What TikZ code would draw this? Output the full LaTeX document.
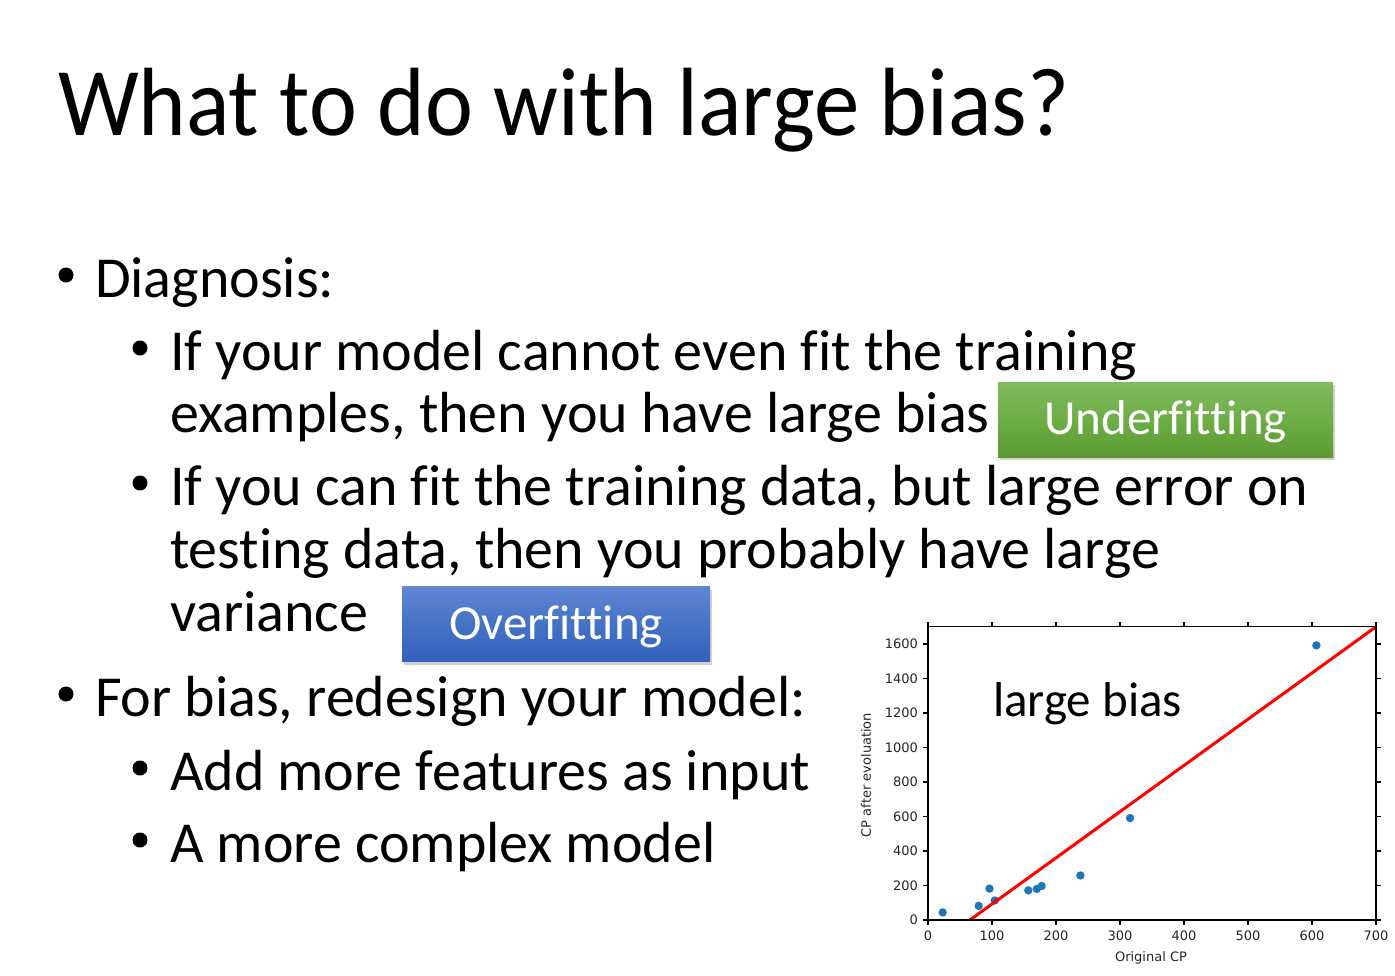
\documentclass[tikz,border=0pt]{standalone}
\usepackage{fontspec}
\setmainfont{Carlito}[Ligatures={NoCommon,NoContextual}]
\newfontfamily\plotfont{DejaVu Sans}
\usetikzlibrary{positioning,shadows}
\definecolor{ufgreentop}{HTML}{82BA60}
\definecolor{ufgreenmid}{HTML}{6DAE45}
\definecolor{ufgreenbot}{HTML}{5B9B30}
\definecolor{ofbluetop}{HTML}{6187D4}
\definecolor{ofbluemid}{HTML}{4472C4}
\definecolor{ofbluebot}{HTML}{3361BC}
\definecolor{cpblue}{HTML}{1F77B4}

\begin{document}
\begin{tikzpicture}[x=1pt, y=-1pt, every node/.style={inner sep=0pt, outer sep=0pt}, textline/.style={anchor=base west, font=\fontsize{58}{62}\selectfont}, bulletdot/.style={circle, fill=black, minimum size=15pt}, tag/.style={text=white, font=\fontsize{49}{49}\selectfont, text height=30pt, text depth=0pt, minimum height=75pt, drop shadow={shadow xshift=2pt, shadow yshift=-3pt, opacity=0.35}}, ticklabel/.style={font=\plotfont\fontsize{13}{14}\selectfont, text=black!85}, axisline/.style={line width=1.2pt}]
    \useasboundingbox[fill=white] (0,0) rectangle (1395,975);

    \node[anchor=base west, font=\fontsize{97}{100}\selectfont] (title) at (58,135) {\scalebox{0.935}[1]{What to do with large bias?}};

    \node[bulletdot] (b1) at (66,275) {};
    \node[textline] (diag) at (95,297) {Diagnosis:};
    \node[bulletdot] (b11) at (140,348) {};
    \node[textline] (fitA) at (170,370) {If your model cannot even fit the training};
    \node[textline] (fitB) at (170,432) {examples, then you have large bias};
    \node[bulletdot] (b12) at (140,483) {};
    \node[textline] (varA) at (170,505) {If you can fit the training data, but large error on};
    \node[textline] (varB) at (170,568) {testing data, then you probably have large};
    \node[textline] (varC) at (170,631) {variance};
    \node[bulletdot] (b2) at (66,694) {};
    \node[textline] (redesign) at (95,716) {For bias, redesign your model:};
    \node[bulletdot] (b21) at (140,768) {};
    \node[textline] (features) at (170,790) {Add more features as input};
    \node[bulletdot] (b22) at (140,840) {};
    \node[textline] (complex) at (170,862) {A more complex model};

    \node[tag, minimum width=335pt, top color=ufgreentop, bottom color=ufgreenbot, middle color=ufgreenmid] (underfit) at (1165.5,419.5) {Underfitting};
    \node[tag, minimum width=308pt, top color=ofbluetop, bottom color=ofbluebot, middle color=ofbluemid] (overfit) at (556,624) {Overfitting};

    % scatter plot
    \begin{scope}[shift={(928,920)}, x=0.64pt, y=0.1725pt]
        \foreach \v in {0,100,...,700} {
            \draw[axisline] (\v,0) -- ++(0,-5pt);
            \draw[axisline] (\v,1700) -- ++(0,5pt);
            \node[ticklabel, below=11pt] (xt\v) at (\v,0) {\v};
        }
        \foreach \v in {0,200,...,1600} {
            \draw[axisline] (0,\v) -- ++(-5pt,0);
            \draw[axisline] (700,\v) -- ++(5pt,0);
            \node[ticklabel, left=10pt] (yt\v) at (0,\v) {\v};
        }
        \foreach \px/\py in {22.9/44, 79.2/82, 96.1/182, 104.3/113, 156.7/172, 169.9/180, 177.5/197, 238.1/258, 315.7/591, 606.8/1592}
            \fill[cpblue] (\px,\py) circle[radius=4.2pt];
        \draw[red, line width=3pt] (65.5,0) -- (700,1700);
        \draw[axisline] (0,0) rectangle (700,1700);
    \end{scope}

    \node[anchor=base west, font=\fontsize{49}{49}\selectfont] (biaslabel) at (993,716) {large bias};
    \node[ticklabel, rotate=90] (ylab) at (866,775) {CP after evoluation};
    \node[ticklabel] (xlab) at (1151,958) {Original CP};
\end{tikzpicture}
\end{document}
